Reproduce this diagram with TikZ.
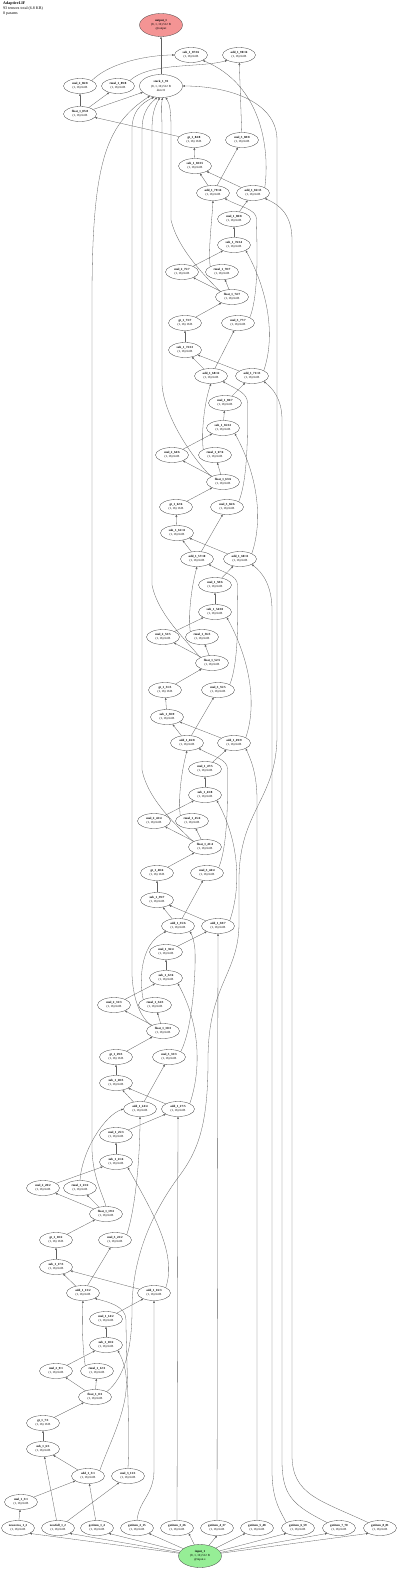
\documentclass[tikz,border=0pt]{standalone}
\usepackage{fontspec}
\setmainfont{Liberation Serif}
\usetikzlibrary{positioning,arrows.meta,shapes.geometric}
\definecolor{outred}{RGB}{244,148,148}
\definecolor{ingreen}{RGB}{150,238,150}
\definecolor{edgegray}{RGB}{95,95,95}
\tikzset{op/.style={draw=black!75,ellipse,fill=#1,align=center,inner sep=0pt,minimum width=33pt,minimum height=15pt,line width=0.3pt,font=\fontsize{3.1}{4.2}\selectfont},
  op/.default=white,
  io/.style={op=#1,minimum width=43pt,minimum height=23pt},
  io/.default=white,
  ed/.style={draw=edgegray,line width=0.3pt,-{Triangle[length=2.2pt,width=1.8pt]}}}
\newcommand{\opn}[3]{\node[op] (#1) at (#2) {\textbf{#3}\\(1, 16) 64 B};}
\newcommand{\gtn}[3]{\node[op] (#1) at (#2) {\textbf{#3}\\(1, 16) 16 B};}

\begin{document}
\begin{tikzpicture}[x=1pt,y=-1pt]
    \useasboundingbox (0,0) rectangle (400,1572);
    \node[anchor=north west,align=left,inner sep=0pt,font=\fontsize{4}{5}\selectfont] (title) at (3,2) {\textbf{AdaptiveLIF}\\93 tensors total (6.8 KB)\\0 params};
    \node[io=outred] (output) at (161,25) {\textbf{output\_1}\\(8, 1, 16) 512 B\\@output};
    \node[io] (stack) at (161,86) {\textbf{stack\_1\_91}\\(8, 1, 16) 512 B\\dim=0};
    \node[io=ingreen] (input) at (200,1556) {\textbf{input\_1}\\(8, 1, 16) 512 B\\@input.x};
    \opn{nz}{18,1528}{newzeros\_1\_2}
    \opn{nf}{58,1528}{newfull\_1\_2}
    % step 1
    \opn{mula-1}{21,1502}{mul\_1\_3:1}
    \opn{get-1}{97,1528}{getitem\_1\_4}
    \opn{adda-1}{88,1476}{add\_1\_5:1}
    \opn{suba-1}{43,1449}{sub\_1\_6:1}
    \gtn{gt-1}{43,1423}{gt\_1\_7:1}
    \opn{flt-1}{95,1397}{float\_1\_8:1}
    \opn{mulb-1}{56,1371}{mul\_2\_9:1}
    \opn{subb-1}{106,1345}{sub\_1\_10:2}
    \opn{mulc-1}{128,1476}{mul\_3\_11:1}
    \opn{rmul-1}{97,1371}{rmul\_1\_12:1}
    \opn{addb-1}{83,1293}{add\_1\_13:2}
    % step 2
    \opn{mula-2}{106,1319}{mul\_1\_14:2}
    \opn{get-2}{137,1528}{getitem\_2\_15}
    \opn{adda-2}{154,1293}{add\_1\_16:3}
    \opn{suba-2}{56,1267}{sub\_1\_17:3}
    \gtn{gt-2}{56,1240}{gt\_1\_18:2}
    \opn{flt-2}{106,1214}{float\_1\_19:2}
    \opn{mulb-2}{43,1188}{mul\_2\_20:2}
    \opn{subb-2}{116,1162}{sub\_1\_21:4}
    \opn{mulc-2}{115,1240}{mul\_3\_22:2}
    \opn{rmul-2}{80,1188}{rmul\_1\_23:2}
    \opn{addb-2}{140,1109}{add\_1\_24:4}
    % step 3
    \opn{mula-3}{116,1135}{mul\_1\_25:3}
    \opn{get-3}{177,1528}{getitem\_3\_26}
    \opn{adda-3}{178,1109}{add\_1\_27:5}
    \opn{suba-3}{116,1083}{sub\_1\_28:5}
    \gtn{gt-3}{116,1057}{gt\_1\_29:3}
    \opn{flt-3}{163,1031}{float\_1\_30:3}
    \opn{mulb-3}{114,1005}{mul\_2\_31:3}
    \opn{subb-3}{166,978}{sub\_1\_32:6}
    \opn{mulc-3}{169,1057}{mul\_3\_33:3}
    \opn{rmul-3}{155,1005}{rmul\_1\_34:3}
    \opn{addb-3}{178,926}{add\_1\_35:6}
    % step 4
    \opn{mula-4}{166,952}{mul\_1\_36:4}
    \opn{get-4}{217,1528}{getitem\_4\_37}
    \opn{adda-4}{218,926}{add\_1\_38:7}
    \opn{suba-4}{157,900}{sub\_1\_39:7}
    \gtn{gt-4}{157,873}{gt\_1\_40:4}
    \opn{flt-4}{205,847}{float\_1\_41:4}
    \opn{mulb-4}{154,821}{mul\_2\_42:4}
    \opn{subb-4}{205,795}{sub\_1\_43:8}
    \opn{mulc-4}{207,873}{mul\_3\_44:4}
    \opn{rmul-4}{192,821}{rmul\_1\_45:4}
    \opn{addb-4}{187,743}{add\_1\_46:8}
    % step 5
    \opn{mula-5}{205,769}{mul\_1\_47:5}
    \opn{get-5}{257,1528}{getitem\_5\_48}
    \opn{adda-5}{234,743}{add\_1\_49:9}
    \opn{suba-5}{167,717}{sub\_1\_50:9}
    \gtn{gt-5}{165,690}{gt\_1\_51:5}
    \opn{flt-5}{212,663}{float\_1\_52:5}
    \opn{mulb-5}{163,637}{mul\_2\_53:5}
    \opn{subb-5}{215,612}{sub\_1\_54:10}
    \opn{mulc-5}{218,690}{mul\_3\_55:5}
    \opn{rmul-5}{202,637}{rmul\_1\_56:5}
    \opn{addb-5}{197,559}{add\_1\_57:10}
    % step 6
    \opn{mula-6}{215,585}{mul\_1\_58:6}
    \opn{get-6}{298,1528}{getitem\_6\_59}
    \opn{adda-6}{240,559}{add\_1\_60:11}
    \opn{suba-6}{177,533}{sub\_1\_61:11}
    \gtn{gt-6}{176,507}{gt\_1\_62:6}
    \opn{flt-6}{223,482}{float\_1\_63:6}
    \opn{mulb-6}{172,455}{mul\_2\_64:6}
    \opn{subb-6}{223,428}{sub\_1\_65:12}
    \opn{mulc-6}{227,507}{mul\_3\_66:6}
    \opn{rmul-6}{215,455}{rmul\_1\_67:6}
    \opn{addb-6}{211,376}{add\_1\_68:12}
    % step 7
    \opn{mula-7}{225,403}{mul\_1\_69:7}
    \opn{get-7}{339,1528}{getitem\_7\_70}
    \opn{adda-7}{252,376}{add\_1\_71:13}
    \opn{suba-7}{185,350}{sub\_1\_72:13}
    \gtn{gt-7}{185,323}{gt\_1\_73:7}
    \opn{flt-7}{232,297}{float\_1\_74:7}
    \opn{mulb-7}{182,272}{mul\_2\_75:7}
    \opn{subb-7}{234,245}{sub\_1\_76:14}
    \opn{mulc-7}{238,323}{mul\_3\_77:7}
    \opn{rmul-7}{222,272}{rmul\_1\_78:7}
    \opn{addb-7}{213,193}{add\_1\_79:14}
    % step 8
    \opn{mula-8}{234,219}{mul\_1\_80:8}
    \opn{get-8}{380,1528}{getitem\_8\_81}
    \opn{adda-8}{253,193}{add\_1\_82:15}
    \opn{suba-8}{195,166}{sub\_1\_83:15}
    \gtn{gt-8}{194,140}{gt\_1\_84:8}
    \opn{flt-8}{80,114}{float\_1\_85:8}
    \opn{mulb-8}{80,86}{mul\_2\_86:8}
    \opn{subb-8}{191,55}{sub\_1\_87:16}
    \opn{mulc-8}{242,140}{mul\_3\_88:8}
    \opn{rmul-8}{118,86}{rmul\_1\_89:8}
    \opn{addb-8}{239,55}{add\_1\_90:16}

    % edges inside each step
    \draw[ed] (stack) -- (output);
    \draw[ed] (input) -- (nz.south east);
    \draw[ed] (input) -- (nf.south east);
    \foreach \k/\a in {1/south east,2/south east,3/south east,4/south,5/south west,6/south west,7/south west,8/south west}{
      \draw[ed] (input) -- (get-\k.\a);
    }
    \foreach \k in {1,...,8}{
      \draw[ed] (mula-\k) -- (adda-\k);
      \draw[ed] (adda-\k) -- (suba-\k);
      \draw[ed] (suba-\k) -- (gt-\k);
      \draw[ed] (gt-\k) -- (flt-\k);
      \draw[ed] (flt-\k) -- (mulb-\k);
      \draw[ed] (flt-\k) -- (rmul-\k);
    }
    \foreach \j/\k in {1/2,2/3,3/4,4/5,5/6,6/7,7/8}{
      \draw[ed] (subb-\j) -- (mula-\k);
      \draw[ed] (addb-\j) -- (suba-\k);
      \draw[ed] (addb-\j) -- (mulc-\k);
      \draw[ed] (mulb-\j) -- (subb-\j);
      \draw[ed] (adda-\j.north east) .. controls +(12,-35) and +(22,40) .. (subb-\j.south east);
    }
    \draw[ed] (nz) -- (mula-1);
    \draw[ed] (nf) -- (suba-1);
    \draw[ed] (nf) -- (mulc-1);
    \draw[ed] (mulc-8) -- (addb-8);
    \foreach \k in {1,3,4}{\draw[ed] (get-\k) -- (adda-\k);}

    % last step
    \draw[ed] (mulb-8.north east) .. controls (110,62) and (150,55) .. (subb-8.west);
    \draw[ed] (rmul-8.north east) .. controls (150,62) and (200,68) .. (addb-8.south west);
    \draw[ed] (adda-8.north east) .. controls (270,150) and (262,85) .. (subb-8.south east);

    % mul_3 -> add
    \draw[ed] (mulc-1.north) .. controls (130,1430) and (126,1350) .. (126,1320) .. controls (126,1306) and (108,1302) .. (addb-1.south east);
    \draw[ed] (mulc-2.north east) .. controls (135,1210) and (140,1160) .. (addb-2.south);
    \draw[ed] (mulc-3.north east) .. controls (192,1030) and (196,975) .. (195,950) .. controls (194,940) and (192,935) .. (addb-3.south east);
    \draw[ed] (mulc-4.north east) .. controls +(10,-25) and +(0,20) .. (227.5,769) .. controls +(0,-10) and +(14,8) .. (addb-4.south east);
    \draw[ed] (mulc-5.north east) .. controls +(10,-25) and +(0,20) .. (237.5,585) .. controls +(0,-10) and +(14,8) .. (addb-5.south east);
    \draw[ed] (mulc-6.north east) .. controls +(10,-25) and +(0,20) .. (247.5,403) .. controls +(0,-10) and +(14,8) .. (addb-6.south east);
    \draw[ed] (mulc-7.north east) .. controls +(10,-25) and +(0,20) .. (256.5,219) .. controls +(0,-10) and +(14,8) .. (addb-7.south east);

    % rmul -> add
    \draw[ed] (rmul-1.north west) .. controls (82,1345) and (82,1315) .. (addb-1.south);
    \draw[ed] (rmul-2.north) .. controls (82,1150) and (105,1115) .. (addb-2.west);
    \draw[ed] (rmul-3.north west) .. controls (140,985) and (138,945) .. (addb-3.south west);
    \draw[ed] (rmul-4.north west) .. controls (178,795) and (182,770) .. (addb-4.south);
    \draw[ed] (rmul-5.north west) .. controls (188,612) and (192,585) .. (addb-5.south);
    \draw[ed] (rmul-6.north west) .. controls (201,430) and (205,400) .. (addb-6.south);
    \draw[ed] (rmul-7.north west) .. controls (208,250) and (212,220) .. (addb-7.south);

    % getitem -> add
    \draw[ed] (get-2.north) .. controls (139,1500) and (154,1495) .. (154,1470) -- (adda-2.south);
    \draw[ed] (get-5.north) -- (257,800) .. controls (257,772) and (250,758) .. (adda-5.south east);
    \draw[ed] (get-6.north west) .. controls (280,1510) and (272,1500) .. (272,1470) -- (272,610) .. controls (272,585) and (262,572) .. (adda-6.south east);
    \draw[ed] (get-7.north west) .. controls (292,1505) and (282,1495) .. (282,1460) -- (282,420) .. controls (282,398) and (272,388) .. (adda-7.south east);
    \draw[ed] (get-8.north west) .. controls (320,1500) and (292,1495) .. (292,1455) -- (292,240) .. controls (292,215) and (280,205) .. (adda-8.south east);

    % float -> stack
    \draw[ed] (flt-8) -- (stack);
    \draw[ed] (flt-7.north west) .. controls (207,278) and (178,250) .. (171,220) -- (171,130) .. controls (171,112) and (170,104) .. (stack.292);
    \draw[ed] (flt-6.north west) .. controls (196,462) and (165,420) .. (162,385) -- (162,130) .. controls (162,115) and (161,108) .. (stack.277);
    \draw[ed] (flt-5.north west) .. controls (188,642) and (158,615) .. (152,585) -- (152,130) .. controls (152,115) and (154,108) .. (stack.264);
    \draw[ed] (flt-4.north west) .. controls (178,827) and (148,800) .. (142,770) -- (142,130) .. controls (142,115) and (147,106) .. (stack.252);
    \draw[ed] (flt-3.north west) .. controls (138,1015) and (133,995) .. (132,975) -- (132,130) .. controls (132,112) and (140,104) .. (stack.238);
    \draw[ed] (flt-2.north) .. controls (103,1195) and (93,1178) .. (92,1150) -- (92,300) .. controls (92,165) and (105,125) .. (stack.222);
    \draw[ed] (flt-1.north east) .. controls (124,1378) and (132,1350) .. (132,1310) .. controls (132,1260) and (150,1215) .. (180,1175) .. controls (200,1148) and (208,1120) .. (208,1060) .. controls (208,985) and (238,975) .. (239,925) -- (239,880) .. controls (239,810) and (277,800) .. (277,735) -- (277,140) .. controls (277,100) and (225,86) .. (stack.east);
\end{tikzpicture}
\end{document}
